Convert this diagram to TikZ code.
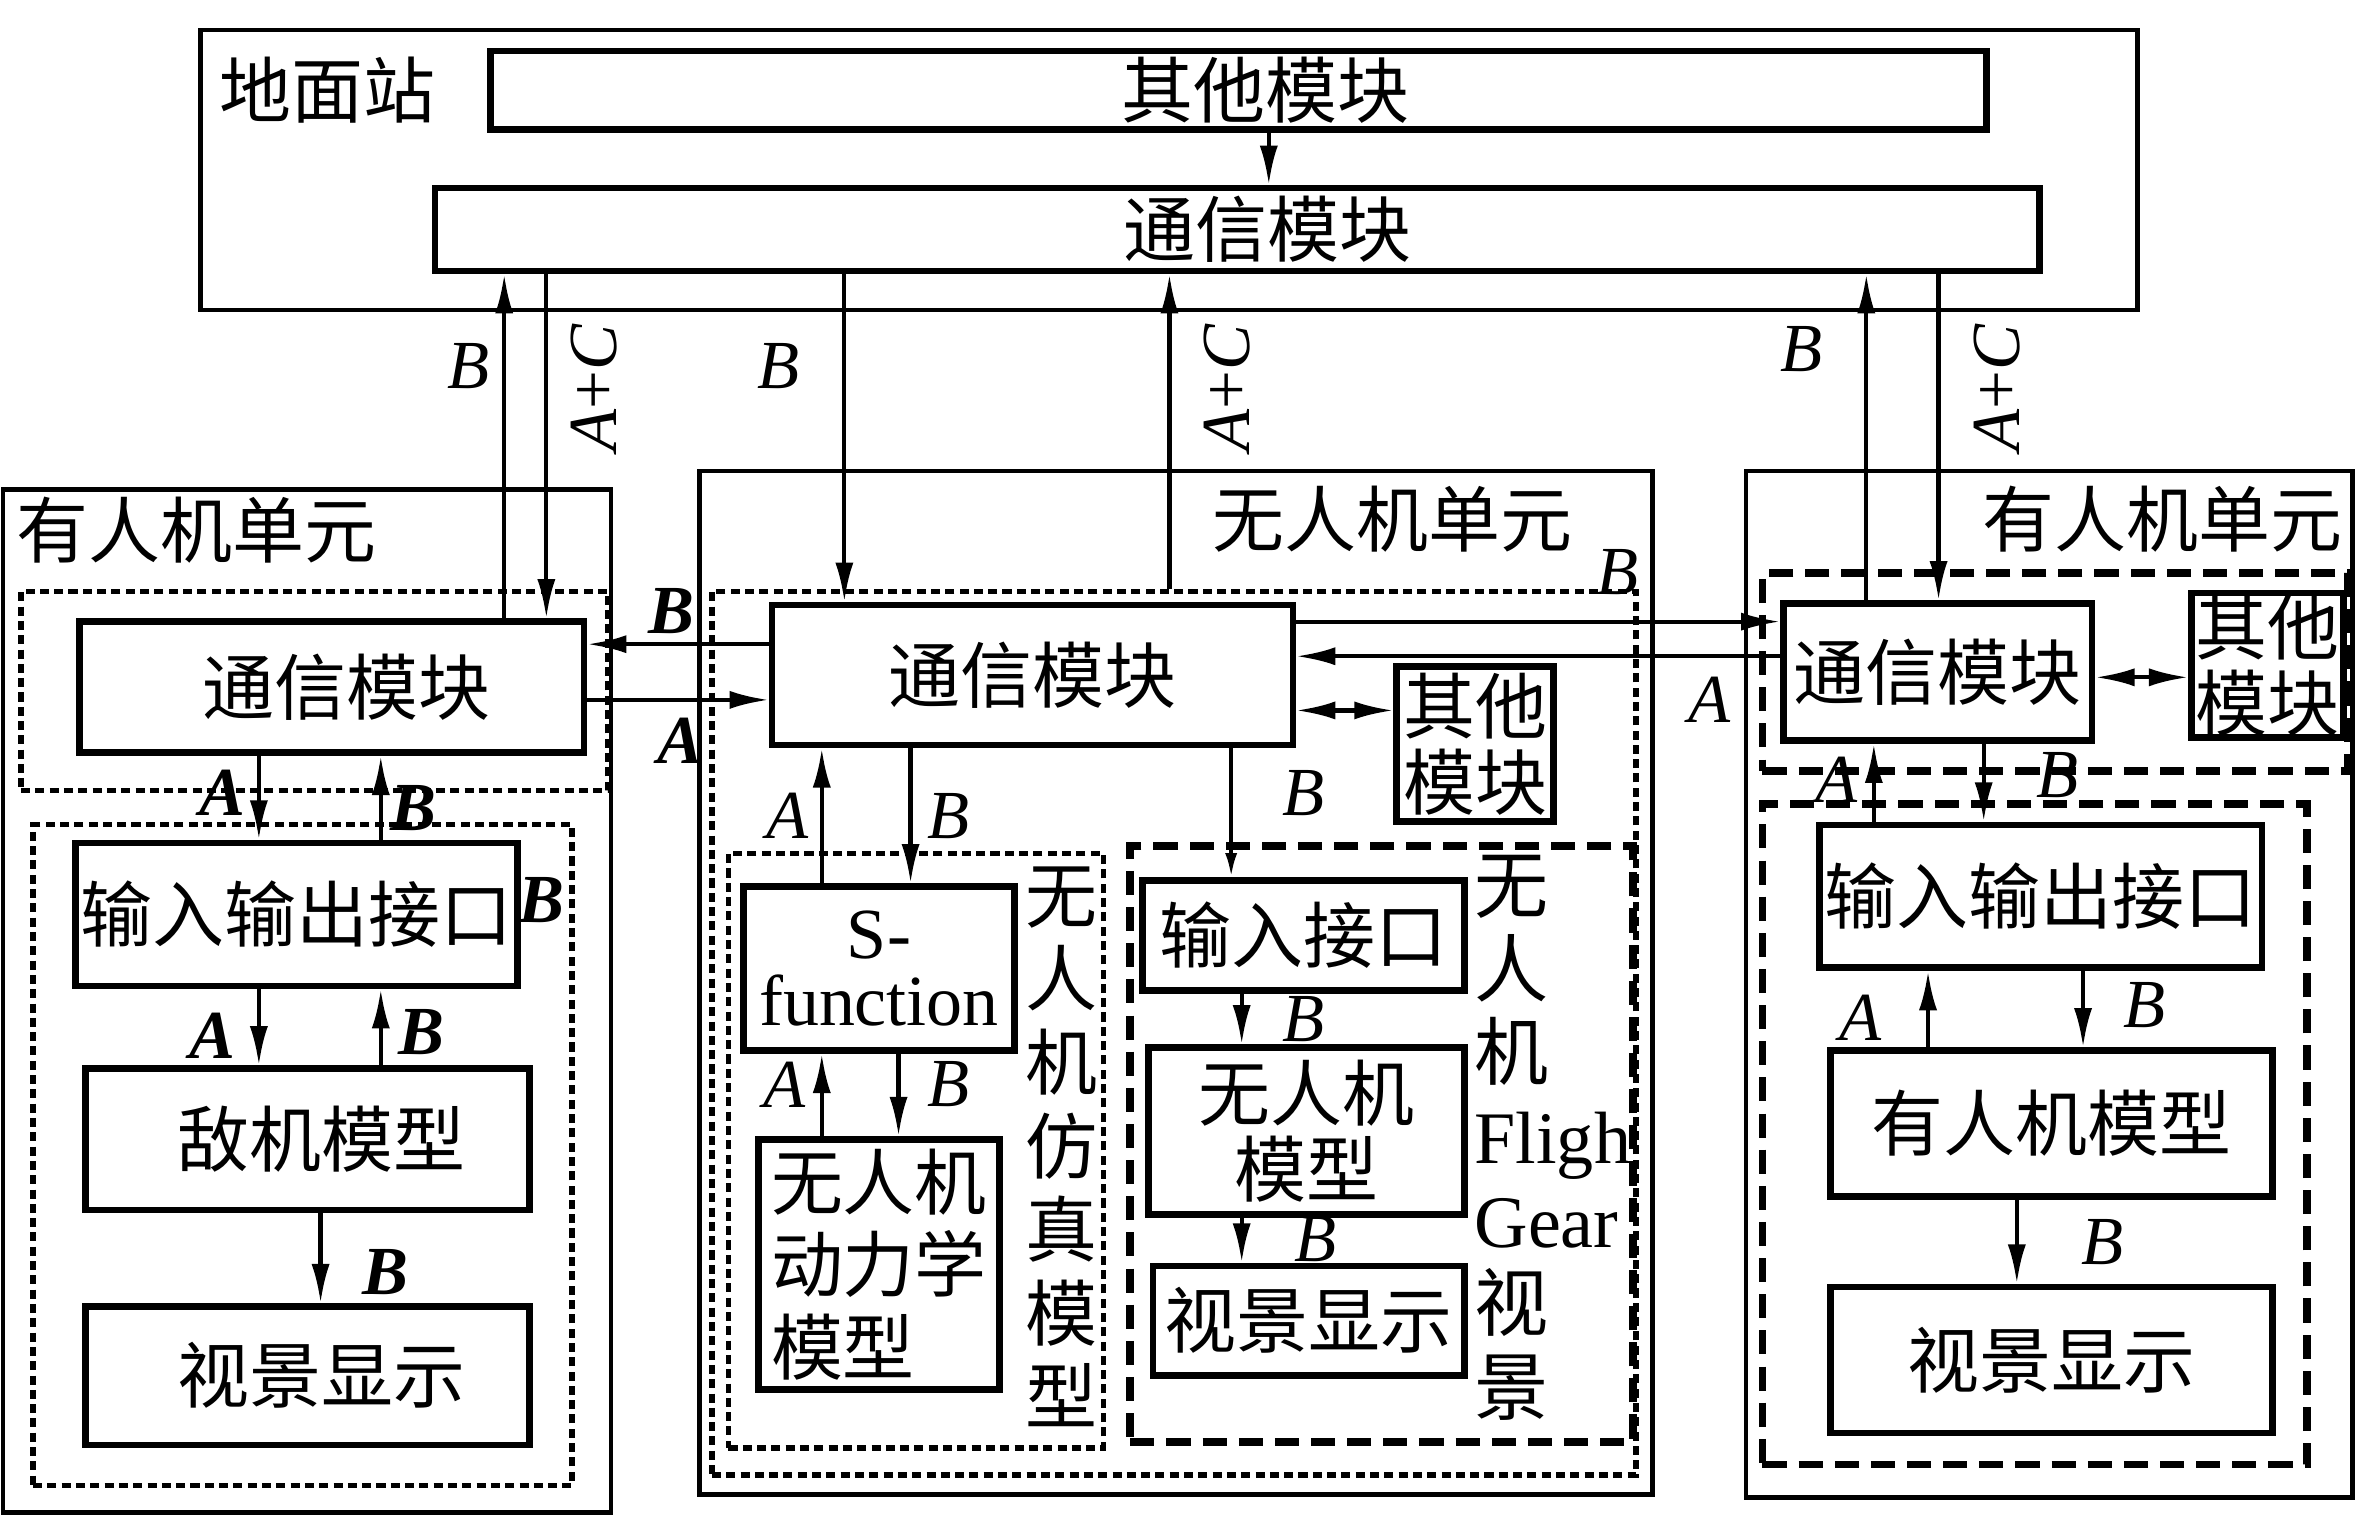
\documentclass[tikz,border=0pt]{standalone}
\usepackage{fontspec}
\setmainfont{Liberation Serif}
\newfontfamily\cjk{Noto Sans CJK SC}
\usetikzlibrary{arrows.meta}
\newcommand\mybox[7]{\node[#6,minimum width={(#4-#2)*0.01cm},minimum height={(#5-#3)*0.01cm}] (#1) at ({(#2+#4)/2},{(#3+#5)/2}) {#7};}
\newcommand\apc{{\itshape A}{\upshape +}{\itshape C}}
\begin{document}
\begin{tikzpicture}[x=0.01cm,y=-0.01cm,
 box/.style={draw,line width=1.25pt,inner sep=0pt,font=\cjk\fontsize{13.6}{16}\selectfont},
 outer/.style={draw,line width=0.9pt,inner sep=0pt},
 fdash/.style={draw,line width=1pt,inner sep=0pt,dash pattern=on 0.06cm off 0.035cm},
 tdash/.style={draw,line width=1.5pt,inner sep=0pt,dash pattern=on 0.16cm off 0.08cm},
 con/.style={line width=0.8pt,-{Latex[length=2.6mm,width=1.2mm]}},
 dcon/.style={line width=0.8pt,{Latex[length=2.6mm,width=1.2mm]}-{Latex[length=2.6mm,width=1.2mm]}},
 lab/.style={inner sep=0pt,font=\fontsize{13}{15}\selectfont\itshape},
 blab/.style={inner sep=0pt,font=\fontsize{13}{15}\selectfont\bfseries\itshape},
 ttl/.style={inner sep=0pt,font=\cjk\fontsize{13.6}{16}\selectfont}
]
\useasboundingbox (0,0) rectangle (1568,1008);

% ---------- ground station ----------
\mybox{gsOuter}{133}{20}{1420}{206}{outer}{}
\node[ttl,anchor=west] (gsT) at (145,60) {地面站};
\mybox{gsOther}{326}{34}{1320}{86}{box}{\hspace{0.36cm}其他模块}
\mybox{gsComm}{289}{125}{1355}{180}{box}{\hspace{0.4cm}通信模块}
\draw[con] (843,0 |- gsOther.south) -- (843,0 |- gsComm.north);

% ---------- left manned unit ----------
\mybox{luOuter}{2}{325}{406}{1005}{outer}{}
\node[ttl,anchor=west] (luT) at (10,352) {有人机单元};
\mybox{luD1}{14}{393}{404}{525}{fdash}{}
\mybox{luComm}{53}{413}{388}{500}{box}{\hspace{0.2cm}通信模块}
\mybox{luD2}{22}{548}{380}{987}{fdash}{}
\mybox{luIO}{50}{560}{344}{655}{box}{输入输出接口}
\mybox{luEn}{57}{710}{352}{804}{box}{\hspace{0.18cm}敌机模型}
\mybox{luView}{57}{868}{352}{960}{box}{\hspace{0.18cm}视景显示}
\draw[con] (172,0 |- luComm.south) -- (172,0 |- luIO.north);
\draw[con] (253,0 |- luIO.north) -- (253,0 |- luComm.south);
\draw[con] (172,0 |- luIO.south) -- (172,0 |- luEn.north);
\draw[con] (253,0 |- luEn.north) -- (253,0 |- luIO.south);
\draw[con] (213,0 |- luEn.south) -- (213,0 |- luView.north);
\node[blab] (l1) at (148,527) {A};
\node[blab] (l2) at (275,537) {B};
\node[blab] (l3) at (141,688) {A};
\node[blab] (l4) at (280,686) {B};
\node[blab] (l5) at (256,845) {B};
\node[blab] (l6) at (360,598) {B};

% ground <-> left unit
\draw[con] (335,0 |- luComm.north) -- (335,0 |- gsComm.south);
\draw[con] (363,0 |- gsComm.south) -- (363,0 |- luComm.north);
\node[lab] (g1) at (311,243) {B};
\node[lab,rotate=90] (g2) at (395,258) {\apc};

% ---------- UAV unit ----------
\mybox{uaOuter}{465}{313}{1098}{993}{outer}{}
\node[ttl] (uaT) at (925,345) {无人机单元};
\mybox{uaD}{473}{393}{1087}{980}{fdash}{}
\node[lab] (u0) at (1075,380) {B};
\mybox{uaComm}{513}{402}{859}{495}{box}{通信模块}
\mybox{uaOther}{928}{443}{1032}{546}{box,align=center,font=\cjk\fontsize{13.6}{14.5}\selectfont}{其他\\模块}
\draw[dcon] (uaComm.east |- 0,472) -- (uaOther.west |- 0,472);

% left comm <-> UAV comm
\draw[con] (uaComm.west |- 0,428) -- (luComm.east |- 0,428);
\draw[con] (luComm.east |- 0,465) -- (uaComm.west |- 0,465);
\node[blab] (c1) at (446,406) {B};
\node[blab] (c2) at (452,492) {A};

% ground <-> UAV
\draw[con] (561,0 |- gsComm.south) -- (561,0 |- uaComm.north);
\draw[con] (777,0 |- uaD.north) -- (777,0 |- gsComm.south);
\node[lab] (g3) at (517,243) {B};
\node[lab,rotate=90] (g4) at (815,258) {\apc};

% S-function sub-system
\mybox{uaS}{484}{567}{733}{962}{fdash}{}
\mybox{uaSf}{494}{589}{674}{698}{box,align=center,font=\fontsize{13.6}{12.6}\selectfont}{S-\\function}
\mybox{uaDyn}{504}{757}{664}{923}{box,align=left,font=\cjk\fontsize{13.6}{15.6}\selectfont}{无人机\\动力学\\模型}
\node[ttl,align=center,font=\cjk\fontsize{13.6}{15.8}\selectfont] (uaSv) at (705,762) {无\\人\\机\\仿\\真\\模\\型};
\draw[con] (546,0 |- uaSf.north) -- (546,0 |- uaComm.south);
\draw[con] (605,0 |- uaComm.south) -- (605,0 |- uaSf.north);
\node[lab] (s1) at (523,542) {A};
\node[lab] (s2) at (630,542) {B};
\draw[con] (546,0 |- uaDyn.north) -- (546,0 |- uaSf.south);
\draw[con] (597,0 |- uaSf.south) -- (597,0 |- uaDyn.north);
\node[lab] (s3) at (521,721) {A};
\node[lab] (s4) at (630,720) {B};

% FlightGear sub-system
\mybox{uaFG}{751}{562}{1085}{958}{tdash}{}
\mybox{uaIn}{759}{585}{973}{658}{box}{输入接口}
\mybox{uaMod}{763}{696}{973}{807}{box,align=center,font=\cjk\fontsize{13.6}{14.5}\selectfont}{无人机\\模型}
\mybox{uaView}{766}{841}{973}{914}{box}{视景显示}
\node[inner sep=0pt,anchor=west,align=left,font=\fontsize{14}{15.8}\selectfont] (uaFGv) at (979,756)
 {{\cjk 无}\\{\cjk 人}\\{\cjk 机}\\Fligh\\Gear\\{\cjk 视}\\{\cjk 景}};
\draw[line width=0.7pt,-{Latex[length=1.6mm,width=0.8mm]}] (818,0 |- uaComm.south) -- (818,0 |- uaIn.north);
\node[lab] (f0) at (866,527) {B};
\draw[con] (825,0 |- uaIn.south) -- (825,0 |- uaMod.north);
\draw[con] (825,0 |- uaMod.south) -- (825,0 |- uaView.north);
\node[lab] (f1) at (866,677) {B};
\node[lab] (f2) at (874,823) {B};

% ---------- right manned unit ----------
\mybox{ruOuter}{1160}{313}{1563}{995}{outer}{}
\node[ttl] (ruT) at (1437,345) {有人机单元};
\mybox{ruD1}{1171}{381}{1560}{512}{tdash}{}
\mybox{ruComm}{1185}{401}{1390}{492}{box}{通信模块}
\mybox{ruOther}{1456}{394}{1557}{490}{box,align=center,font=\cjk\fontsize{13.6}{14.5}\selectfont}{其他\\模块}
\draw[dcon] (ruComm.east |- 0,450) -- (ruOther.west |- 0,450);
\mybox{ruD2}{1171}{534}{1533}{973}{tdash}{}
\mybox{ruIO}{1209}{548}{1503}{643}{box}{输入输出接口}
\mybox{ruMod}{1216}{698}{1510}{795}{box}{有人机模型}
\mybox{ruView}{1216}{855}{1510}{952}{box}{视景显示}
\draw[con] (1245,0 |- ruIO.north) -- (1245,0 |- ruComm.south);
\draw[con] (1318,0 |- ruComm.south) -- (1318,0 |- ruIO.north);
\node[lab] (r1) at (1220,518) {A};
\node[lab] (r2) at (1367,515) {B};
\draw[con] (1281,0 |- ruMod.north) -- (1281,0 |- ruIO.south);
\draw[con] (1384,0 |- ruIO.south) -- (1384,0 |- ruMod.north);
\node[lab] (r3) at (1236,676) {A};
\node[lab] (r4) at (1425,668) {B};
\draw[con] (1340,0 |- ruMod.south) -- (1340,0 |- ruView.north);
\node[lab] (r5) at (1397,825) {B};

% UAV comm <-> right comm
\draw[con] (uaComm.east |- 0,413) -- (ruComm.west |- 0,413);
\draw[con] (ruComm.west |- 0,436) -- (uaComm.east |- 0,436);
\node[lab] (c3) at (1136,465) {A};

% ground <-> right unit
\draw[con] (1240,0 |- ruComm.north) -- (1240,0 |- gsComm.south);
\draw[con] (1288,0 |- gsComm.south) -- (1288,0 |- ruComm.north);
\node[lab] (g5) at (1197,232) {B};
\node[lab,rotate=90] (g6) at (1327,258) {\apc};
\end{tikzpicture}
\end{document}
